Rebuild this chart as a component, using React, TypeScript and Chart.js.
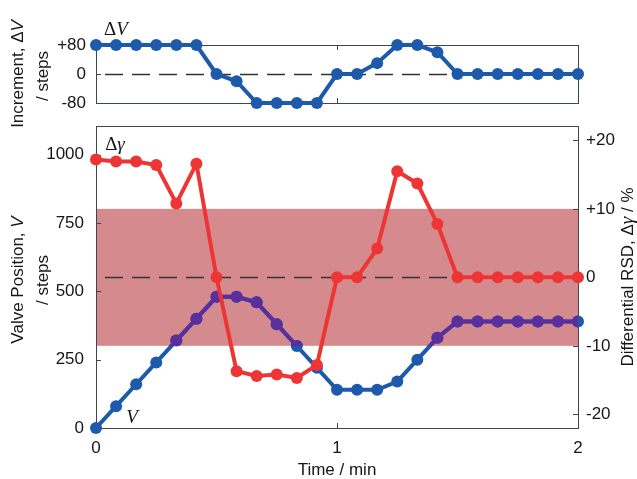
import React, { useEffect, useRef } from 'react';
import { Chart, registerables } from 'chart.js';
Chart.register(...registerables);

const W = 637;
const H = 479;

// sampling times in seconds (every 5 s over 2 min)
const timeSec = [0, 5, 10, 15, 20, 25, 30, 35, 40, 45, 50, 55, 60, 65, 70, 75, 80, 85, 90, 95, 100, 105, 110, 115, 120];
// increment ΔV (steps)
const deltaV = [80, 80, 80, 80, 80, 80, 0, -20, -80, -80, -80, -80, 0, 0, 30, 80, 80, 60, 0, 0, 0, 0, 0, 0, 0];
// valve position V (steps)
const valvePos = [0, 80, 160, 240, 320, 400, 480, 480, 460, 380, 300, 220, 140, 140, 140, 170, 250, 330, 390, 390, 390, 390, 390, 390, 390];
// differential RSD Δγ (%)
const deltaGamma = [17.2, 16.9, 16.9, 16.4, 10.8, 16.6, 0, -13.7, -14.4, -14.2, -14.7, -12.8, 0, 0, 4.2, 15.5, 13.7, 7.8, 0, 0, 0, 0, 0, 0, 0];

const timeTicks = [0, 1, 2];
const dVTicks = [-80, 0, 80];
const vTicks = [0, 250, 500, 750, 1000];
const gTicks = [-20, -10, 0, 10, 20];
const bandRange = [-10, 10];

const BLUE = '#1d5aab';
const RED = '#ee3535';
const PURPLE = '#5a2e9c';
const BAND = '#d58b8d';
const AXIS = '#3c474d';
const TEXT = '#161616';
const SANS = '"Liberation Sans", Arial, sans-serif';
const F_SANS = `17px ${SANS}`;
const F_SANS_I = `italic 17px ${SANS}`;
const F_SERIF = '19px "Liberation Serif", "Times New Roman", serif';
const F_SERIF_I = 'italic 19px "Liberation Serif", "Times New Roman", serif';

const tMin = timeSec.map((s) => s / 60);
const pts = (arr: number[]) => arr.map((v, i) => ({ x: tMin[i], y: v }));
const signed = (v: any) => (Number(v) > 0 ? '+' + v : String(v));

type Part = { t: string; f: string };
function drawParts(ctx: CanvasRenderingContext2D, parts: Part[], x: number, y: number, rot: number) {
  ctx.save();
  ctx.translate(x, y);
  ctx.rotate(rot);
  ctx.textBaseline = 'middle';
  ctx.textAlign = 'left';
  ctx.fillStyle = TEXT;
  let total = 0;
  for (const p of parts) {
    ctx.font = p.f;
    total += ctx.measureText(p.t).width;
  }
  let cx = -total / 2;
  for (const p of parts) {
    ctx.font = p.f;
    ctx.fillText(p.t, cx, 0);
    cx += ctx.measureText(p.t).width;
  }
  ctx.restore();
}

function drawFrame(chart: any, opts: { topTicks: boolean; rightLeftTicks: boolean; rightScale?: string }) {
  const { ctx, chartArea: a, scales } = chart;
  const L = 5;
  ctx.save();
  ctx.strokeStyle = AXIS;
  ctx.lineWidth = 1;
  ctx.strokeRect(a.left + 0.5, a.top + 0.5, a.right - a.left, a.bottom - a.top);
  ctx.beginPath();
  for (const t of timeTicks) {
    const px = Math.round(scales.x.getPixelForValue(t)) + 0.5;
    if (px <= a.left + 1 || px >= a.right - 1) continue;
    ctx.moveTo(px, a.bottom);
    ctx.lineTo(px, a.bottom - L);
    if (opts.topTicks) {
      ctx.moveTo(px, a.top);
      ctx.lineTo(px, a.top + L);
    }
  }
  const ys = scales.y;
  for (const tk of ys.ticks) {
    const py = Math.round(ys.getPixelForValue(tk.value)) + 0.5;
    if (py <= a.top + 1 || py >= a.bottom - 1) continue;
    ctx.moveTo(a.left, py);
    ctx.lineTo(a.left + L, py);
    if (opts.rightLeftTicks) {
      ctx.moveTo(a.right, py);
      ctx.lineTo(a.right - L, py);
    }
  }
  if (opts.rightScale) {
    const rs = scales[opts.rightScale];
    for (const tk of rs.ticks) {
      const py = Math.round(rs.getPixelForValue(tk.value)) + 0.5;
      if (py <= a.top + 1 || py >= a.bottom - 1) continue;
      ctx.moveTo(a.right, py);
      ctx.lineTo(a.right - L, py);
    }
  }
  ctx.stroke();
  ctx.restore();
}

function drawDashed(chart: any, y: number) {
  const { ctx, chartArea: a } = chart;
  ctx.save();
  ctx.strokeStyle = '#333';
  ctx.lineWidth = 1.3;
  ctx.setLineDash([18, 9]);
  ctx.beginPath();
  ctx.moveTo(a.left + 9, Math.round(y) + 0.5);
  ctx.lineTo(a.right, Math.round(y) + 0.5);
  ctx.stroke();
  ctx.restore();
}

const lineStyle = (color: string) => ({
  borderColor: color,
  backgroundColor: color,
  pointBackgroundColor: color,
  pointBorderColor: color,
  pointBorderWidth: 0,
  pointRadius: 6,
  borderWidth: 4,
  tension: 0,
  fill: false,
  clip: false,
});

function topConfig(): any {
  return {
    type: 'line',
    data: { datasets: [{ data: pts(deltaV), ...lineStyle(BLUE) }] },
    options: {
      responsive: false,
      animation: false,
      devicePixelRatio: 1,
      events: [],
      layout: { padding: { top: 45, left: 0, right: 59, bottom: 376 } },
      plugins: { legend: { display: false }, tooltip: { enabled: false } },
      scales: {
        x: { type: 'linear', min: 0, max: 2, display: false },
        y: {
          type: 'linear',
          position: 'left',
          min: -80,
          max: 80,
          afterBuildTicks: (s: any) => {
            s.ticks = dVTicks.map((value) => ({ value }));
          },
          afterFit: (s: any) => {
            s.width = 96;
          },
          grid: { display: false, drawTicks: false },
          border: { display: false },
          ticks: { autoSkip: false, padding: 10, color: TEXT, font: { family: SANS, size: 17 }, callback: signed },
        },
      },
    },
    plugins: [
      {
        id: 'topDecor',
        beforeDatasetsDraw(chart: any) {
          drawFrame(chart, { topTicks: true, rightLeftTicks: true });
          drawDashed(chart, chart.scales.y.getPixelForValue(0));
        },
        afterDraw(chart: any) {
          const ctx = chart.ctx;
          drawParts(ctx, [{ t: 'Δ', f: F_SERIF }, { t: 'V', f: F_SERIF_I }], 116, 30, 0);
          drawParts(ctx, [{ t: 'Increment, Δ', f: F_SANS }, { t: 'V', f: F_SANS_I }], 18, 74, -Math.PI / 2);
          drawParts(ctx, [{ t: '/ steps', f: F_SANS }], 43, 76, -Math.PI / 2);
        },
      },
    ],
  };
}

function bottomConfig(): any {
  return {
    type: 'line',
    data: {
      datasets: [
        { data: pts(deltaGamma), yAxisID: 'y2', ...lineStyle(RED) },
        { data: pts(valvePos), yAxisID: 'y', ...lineStyle(PURPLE) },
        { data: pts(valvePos), yAxisID: 'y', ...lineStyle(BLUE) },
      ],
    },
    options: {
      responsive: false,
      animation: false,
      devicePixelRatio: 1,
      events: [],
      layout: { padding: { top: 126, left: 0, right: 0, bottom: 0 } },
      plugins: { legend: { display: false }, tooltip: { enabled: false } },
      scales: {
        x: {
          type: 'linear',
          position: 'bottom',
          min: 0,
          max: 2,
          afterBuildTicks: (s: any) => {
            s.ticks = timeTicks.map((value) => ({ value }));
          },
          afterFit: (s: any) => {
            s.height = 51;
          },
          grid: { display: false, drawTicks: false },
          border: { display: false },
          ticks: { autoSkip: false, padding: 10, maxRotation: 0, color: TEXT, font: { family: SANS, size: 17 }, callback: (v: any) => String(v) },
          title: { display: true, text: 'Time / min', color: TEXT, padding: 0, font: { family: SANS, size: 17, lineHeight: 1 } },
        },
        y: {
          type: 'linear',
          position: 'left',
          min: 0,
          max: 1105,
          afterBuildTicks: (s: any) => {
            s.ticks = vTicks.map((value) => ({ value }));
          },
          afterFit: (s: any) => {
            s.width = 96;
          },
          grid: { display: false, drawTicks: false },
          border: { display: false },
          ticks: { autoSkip: false, padding: 12, color: TEXT, font: { family: SANS, size: 17 }, callback: (v: any) => String(v) },
        },
        y2: {
          type: 'linear',
          position: 'right',
          min: -22,
          max: 22.1,
          afterBuildTicks: (s: any) => {
            s.ticks = gTicks.map((value) => ({ value }));
          },
          afterFit: (s: any) => {
            s.width = 59;
          },
          grid: { display: false, drawTicks: false },
          border: { display: false },
          ticks: { autoSkip: false, padding: 8, color: TEXT, font: { family: SANS, size: 17 }, callback: signed },
        },
      },
    },
    plugins: [
      {
        id: 'bottomDecor',
        beforeDatasetsDraw(chart: any) {
          const { ctx, chartArea: a, scales } = chart;
          const yTop = scales.y2.getPixelForValue(bandRange[1]);
          const yBot = scales.y2.getPixelForValue(bandRange[0]);
          ctx.save();
          ctx.fillStyle = BAND;
          ctx.fillRect(a.left, yTop, a.right - a.left, yBot - yTop);
          ctx.restore();
          drawFrame(chart, { topTicks: false, rightLeftTicks: false, rightScale: 'y2' });
          drawDashed(chart, scales.y2.getPixelForValue(0));
        },
        beforeDatasetDraw(chart: any, args: any) {
          if (args.index !== 1) return;
          const { ctx, chartArea: a, scales } = chart;
          const yTop = scales.y2.getPixelForValue(bandRange[1]);
          const yBot = scales.y2.getPixelForValue(bandRange[0]);
          ctx.save();
          ctx.beginPath();
          ctx.rect(a.left, yTop, a.right - a.left, yBot - yTop);
          ctx.clip();
        },
        afterDatasetDraw(chart: any, args: any) {
          if (args.index !== 1) return;
          chart.ctx.restore();
        },
        afterDraw(chart: any) {
          const ctx = chart.ctx;
          drawParts(ctx, [{ t: 'Δ', f: F_SERIF }, { t: 'γ', f: F_SERIF_I }], 115, 145, 0);
          drawParts(ctx, [{ t: 'V', f: F_SERIF_I }], 132, 418, 0);
          drawParts(ctx, [{ t: 'Valve Position, ', f: F_SANS }, { t: 'V', f: F_SANS_I }], 18, 280, -Math.PI / 2);
          drawParts(ctx, [{ t: '/ steps', f: F_SANS }], 43, 280, -Math.PI / 2);
          drawParts(
            ctx,
            [
              { t: 'Differential RSD, Δ', f: F_SANS },
              { t: 'γ', f: F_SERIF_I },
              { t: ' / %', f: F_SANS },
            ],
            628,
            277,
            -Math.PI / 2
          );
        },
      },
    ],
  };
}

export default function App() {
  const topRef = useRef<HTMLCanvasElement>(null);
  const botRef = useRef<HTMLCanvasElement>(null);
  useEffect(() => {
    const c2 = new Chart(botRef.current as HTMLCanvasElement, bottomConfig());
    const c1 = new Chart(topRef.current as HTMLCanvasElement, topConfig());
    return () => {
      c1.destroy();
      c2.destroy();
    };
  }, []);
  const cs: React.CSSProperties = { position: 'absolute', left: 0, top: 0, width: W, height: H, display: 'block' };
  return (
    <div style={{ position: 'absolute', left: 0, top: 0, width: W, height: H, background: '#fff' }}>
      <canvas ref={botRef} width={W} height={H} style={cs} />
      <canvas ref={topRef} width={W} height={H} style={cs} />
    </div>
  );
}
